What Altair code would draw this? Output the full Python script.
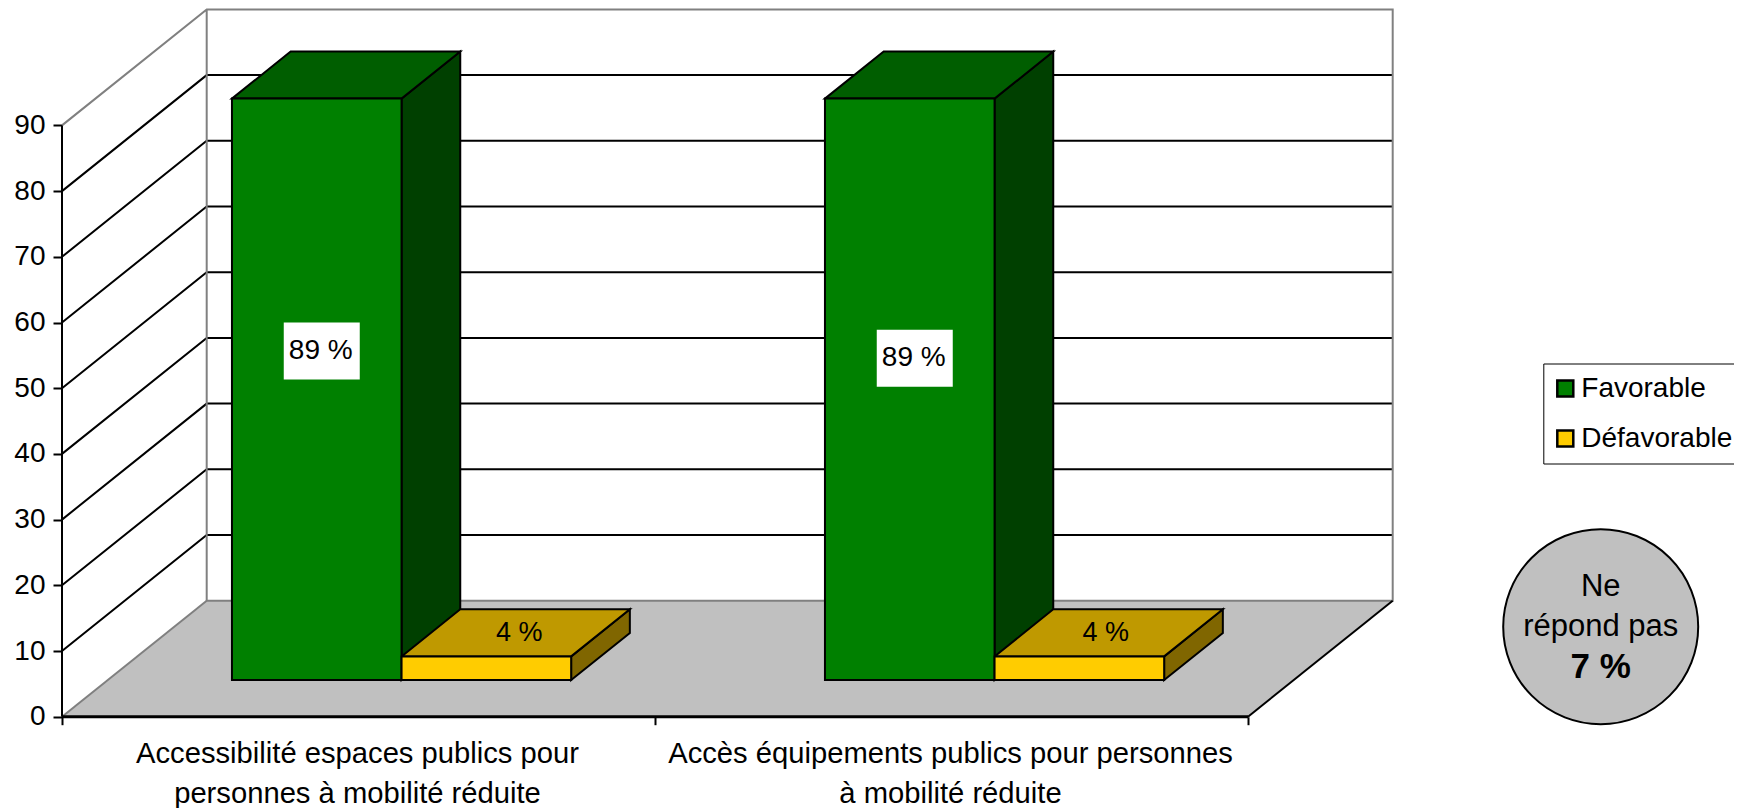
import altair as alt
import pandas as pd

# ---- data
categories = [["Accessibilité espaces publics pour", "personnes à mobilité réduite"],
              ["Accès équipements publics pour personnes", "à mobilité réduite"]]
series = ["Favorable", "Défavorable"]
favorable = [88.5, 88.5]
defavorable = [3.6, 3.6]
favorable_labels = ["89 %", "89 %"]
defavorable_labels = ["4 %", "4 %"]
y_ticks = [0, 10, 20, 30, 40, 50, 60, 70, 80, 90]
no_answer = ["Ne", "répond pas", "7 %"]

# ---- colours and geometry of the fake 3-D box
FONT = "Liberation Sans"
FS = 27
FRONT = ["#008000", "#FFCC00"]
TOP = ["#005E00", "#BF9900"]
SIDE = ["#004000", "#806600"]
W, H = 1726, 800
PX_X, PX_Y = 593.0, 6.57         # pixels per category / per value unit
X0, Y0 = 54.0, 708.7             # pixel position of the origin in the plot
DX, DY = 144.7 / PX_X, 116 / PX_Y  # how far one full depth moves a point
Z0, Z1 = 0.316, 0.7216           # bar depth range
BAR_W, BAR_OFF = 0.286, 0.2095
N = len(categories)
x_scale = alt.Scale(domain=[-X0 / PX_X, (W - X0) / PX_X], nice=False, zero=False)
y_scale = alt.Scale(domain=[(Y0 - H) / PX_Y, Y0 / PX_Y], nice=False, zero=False)
x_axis = alt.Axis(values=list(range(N + 1)), labels=False, domain=False, grid=False, title=None,
                  tickColor="black", tickWidth=2, tickSize=8, offset=-(H - Y0))
y_axis = alt.Axis(values=y_ticks, domain=False, grid=False, title=None, tickColor="black", tickWidth=2,
                  tickSize=9, labelPadding=8, labelFont=FONT, labelFontSize=28,
                  labelColor="black", labelBaseline="middle", offset=-X0)


def X(c, z=0.0):
    return c + z * DX


def Y(v, z=0.0):
    return v + z * DY


def px():
    return alt.X("x:Q", scale=x_scale, axis=x_axis)


def py():
    return alt.Y("y:Q", scale=y_scale, axis=y_axis)


# ---- frame lines
def lines_df(segments):
    rows = []
    for i, seg in enumerate(segments):
        for j, (c, v, z) in enumerate(seg):
            rows.append(dict(id=i, o=j, x=X(c, z), y=Y(v, z)))
    return pd.DataFrame(rows)


def line_layer(segments, color, width):
    return alt.Chart(lines_df(segments)).mark_line(color=color, strokeWidth=width, clip=False).encode(
        x=px(), y=py(), detail="id:N", order="o:Q")


grid_vals = [v for v in y_ticks if 0 < v < 90]
grid_segments = [[(0, v, 0), (0, v, 1), (N, v, 1)] for v in grid_vals]
gray_segments = [[(0, 90, 0), (0, 90, 1), (N, 90, 1), (N, 0, 1), (0, 0, 1), (0, 90, 1)],
                 [(0, 0, 0), (0, 0, 1)]]
black_segments = [[(N, 0, 0), (N, 0, 1)], [(0, 0, 0), (0, 90, 0)]]
front_segments = [[(0, 0, 0), (N, 0, 0)]]

# ---- floor
floor_df = pd.DataFrame({"y": [Y(0, 0), Y(0, 1)], "x": [X(0, 0), X(0, 1)], "x2": [X(N, 0), X(N, 1)]})
floor = alt.Chart(floor_df).mark_area(orient="horizontal", color="#C0C0C0").encode(
    x=px(), x2="x2:Q", y=py())

# ---- bars
all_values = [favorable, defavorable]
side_rows, top_rows = [[], []], [[], []]
front_all = []
for s, values in enumerate(all_values):
    for c, v in enumerate(values):
        left = c + BAR_OFF + s * BAR_W
        right = left + BAR_W
        front_all.append(dict(series=series[s], x=X(left, Z0), x2=X(right, Z0), y=Y(0, Z0), y2=Y(v, Z0)))
        for z in (Z0, Z1):
            side_rows[s].append(dict(bar=c, x=X(right, z), y=Y(0, z), y2=Y(v, z)))
            top_rows[s].append(dict(bar=c, y=Y(v, z), x=X(left, z), x2=X(right, z)))

bar_layers = []
for s in range(2):
    bar_layers.append(
        alt.Chart(pd.DataFrame(side_rows[s])).mark_area(color=SIDE[s], stroke="black", strokeWidth=2).encode(
            x=px(), y=py(), y2="y2:Q", detail="bar:N"))
for s in range(2):
    bar_layers.append(
        alt.Chart(pd.DataFrame(top_rows[s])).mark_area(orient="horizontal", color=TOP[s], stroke="black",
                                                       strokeWidth=2).encode(
            x=px(), x2="x2:Q", y=py(), detail="bar:N"))

front = alt.Chart(pd.DataFrame(front_all)).mark_rect(stroke="black", strokeWidth=2).encode(
    x=px(), x2="x2:Q", y=py(), y2="y2:Q",
    fill=alt.Fill("series:N", scale=alt.Scale(domain=series, range=FRONT), sort=None,
                  legend=alt.Legend(title=None, orient="none", legendX=1535.3, legendY=355.5,
                                    fillColor="white", strokeColor="black", padding=11,
                                    symbolType="square", symbolSize=256, symbolStrokeColor="black",
                                    symbolStrokeWidth=2.5, symbolOffset=-3, labelFont=FONT, labelFontSize=28,
                                    labelColor="black", labelOffset=2, rowPadding=22)))

# ---- value labels
fav_df = pd.DataFrame({
    "x": [X(c + BAR_OFF + BAR_W * 0.5, Z0) for c in range(N)],
    "y": [favorable[c] * 0.5 + 11.4 - 1.1 * c for c in range(N)],
    "label": favorable_labels,
})
fav_box = alt.Chart(fav_df).mark_rect(color="white", width=76, height=57, xOffset=5).encode(x=px(), y=py())
fav_text = alt.Chart(fav_df).mark_text(font=FONT, fontSize=FS + 1, color="black", baseline="middle", dx=4).encode(
    x=px(), y=py(), text="label:N")

def_df = pd.DataFrame({
    "x": [X(c + BAR_OFF + BAR_W * 1.5, (Z0 + Z1) / 2) + d for c, d in zip(range(N), [0.006, -0.005])],
    "y": [Y(defavorable[c], (Z0 + Z1) / 2) for c in range(N)],
    "label": defavorable_labels,
})
def_text = alt.Chart(def_df).mark_text(font=FONT, fontSize=FS, color="black", baseline="middle").encode(
    x=px(), y=py(), text="label:N")

# ---- category labels (two lines each)
cat_rows = []
for c, lines in enumerate(categories):
    for i, t in enumerate(lines):
        cat_rows.append(dict(x=c + 0.5, line=i, text=t))
cat_df = pd.DataFrame(cat_rows)
cat_layers = [
    alt.Chart(cat_df[cat_df.line == i]).mark_text(font=FONT, fontSize=29.2, color="black", baseline="middle", dx=-1).encode(
        x=px(), y=alt.value(746 + 40 * i), text="text:N")
    for i in range(2)
]

# ---- "no answer" bubble
bubble = alt.Chart(pd.DataFrame({"k": ["a"]})).mark_point(
    filled=True, fill="#C0C0C0", stroke="black", strokeWidth=2, opacity=1, shape="circle", size=38025
).encode(x=alt.value(1592.7), y=alt.value(618.7))
bubble_text = [
    alt.Chart(pd.DataFrame({"t": [t]})).mark_text(
        font=FONT, fontSize=fs, fontWeight=w, color="black", baseline="middle"
    ).encode(x=alt.value(1592.7), y=alt.value(yy), text="t:N")
    for t, fs, w, yy in zip(no_answer, [31, 31, 35], ["normal", "normal", "bold"], [578.7, 618.7, 658.7])
]

chart = alt.layer(
    floor,
    line_layer(grid_segments, "black", 2),
    line_layer(gray_segments, "#808080", 2),
    line_layer(black_segments, "black", 2),
    line_layer(front_segments, "black", 3),
    *bar_layers, front, fav_box, fav_text, def_text, *cat_layers, bubble, *bubble_text,
).properties(
    width=W, height=H, padding=0,
    autosize=alt.AutoSizeParams(type="none", contains="padding"),
).configure_view(stroke=None)

chart.save("out.html", embed_options={"renderer": "svg", "actions": False})
